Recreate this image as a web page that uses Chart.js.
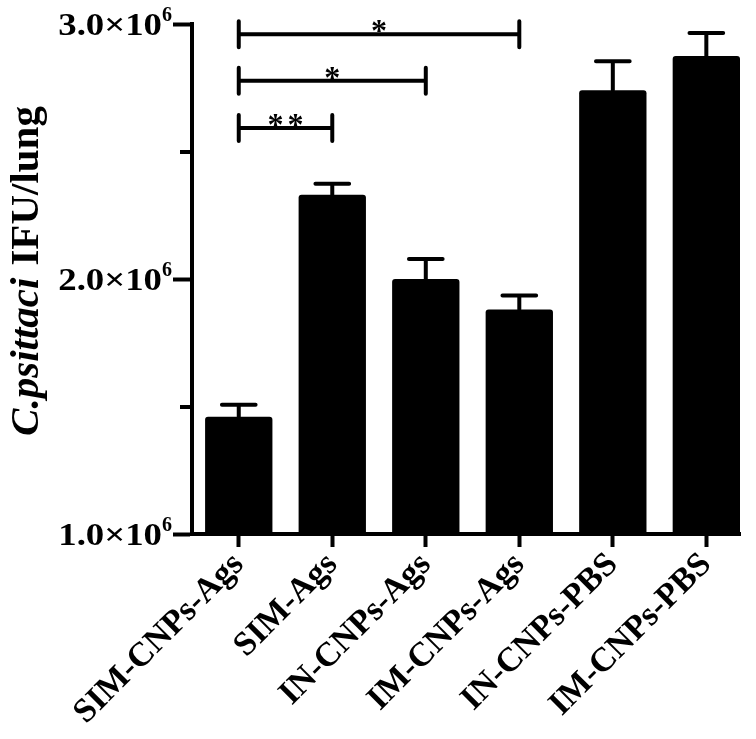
<!DOCTYPE html>
<html><head><meta charset="utf-8">
<script src="https://cdn.jsdelivr.net/npm/chart.js@4"></script>
<style>html,body{margin:0;padding:0;background:#fff}canvas{display:block}</style>
</head><body>
<canvas id="c" width="756" height="739"></canvas>
<script>
// ---- data ----
const categories = ['SIM-CNPs-Ags', 'SIM-Ags', 'IN-CNPs-Ags', 'IM-CNPs-Ags', 'IN-CNPs-PBS', 'IM-CNPs-PBS'];
const means = [1.46e6, 2.33e6, 2.0e6, 1.88e6, 2.74e6, 2.875e6];
const errors = [0.047e6, 0.044e6, 0.078e6, 0.055e6, 0.114e6, 0.09e6];
const yTickValues = [1.0e6, 1.5e6, 2.0e6, 2.5e6, 3.0e6];
const yTickMantissa = ['1.0×10', '', '2.0×10', '', '3.0×10'];
const yTickExponent = ['6', '', '6', '', '6'];
const sigFrom = [0, 0, 0];
const sigTo = [3, 2, 1];
const sigLevel = [2.96e6, 2.777e6, 2.592e6];
const sigText = ['*', '*', '**'];
const yTitleItalic = 'C.psittaci';
const yTitleRest = 'IFU/lung';

const FONT = '"Liberation Serif", "Times New Roman", serif';

const errorBarPlugin = {
  id: 'errbars',
  afterDatasetsDraw(chart) {
    const meta = chart.getDatasetMeta(0);
    const ys = chart.scales.y;
    const c = chart.ctx;
    c.save();
    c.strokeStyle = '#000';
    c.lineWidth = 4;
    c.lineCap = 'round';
    meta.data.forEach((bar, i) => {
      const top = ys.getPixelForValue(means[i]);
      const cap = ys.getPixelForValue(means[i] + errors[i]);
      const half = bar.width * 0.25;
      c.beginPath();
      c.moveTo(bar.x, top);
      c.lineTo(bar.x, cap);
      c.moveTo(bar.x - half, cap);
      c.lineTo(bar.x + half, cap);
      c.stroke();
    });
    c.restore();
  }
};

const sigPlugin = {
  id: 'sig',
  afterDraw(chart) {
    const xs = chart.scales.x, ys = chart.scales.y, c = chart.ctx;
    c.save();
    c.strokeStyle = '#000';
    c.fillStyle = '#000';
    c.lineWidth = 4;
    c.lineCap = 'round';
    for (let k = 0; k < sigFrom.length; k++) {
      const x1 = xs.getPixelForValue(sigFrom[k]);
      const x2 = xs.getPixelForValue(sigTo[k]);
      const y = ys.getPixelForValue(sigLevel[k]);
      c.beginPath();
      c.moveTo(x1, y); c.lineTo(x2, y);
      c.moveTo(x1, y - 13); c.lineTo(x1, y + 13);
      c.moveTo(x2, y - 13); c.lineTo(x2, y + 13);
      c.stroke();
      c.font = 'bold 32px ' + FONT;
      c.textAlign = 'center';
      c.textBaseline = 'alphabetic';
      const multi = sigText[k].length > 1;
      c.letterSpacing = multi ? '4px' : '0px';
      c.fillText(sigText[k], (x1 + x2) / 2 + (multi ? 2 : 0), y + 7);
    }
    c.restore();
  }
};

const yAxisTextPlugin = {
  id: 'yaxistext',
  afterDraw(chart) {
    const c = chart.ctx;
    const ys = chart.scales.y;
    const ca = chart.chartArea;
    c.save();
    c.fillStyle = '#000';
    c.strokeStyle = '#000';
    // minor ticks (shorter)
    c.lineWidth = 4;
    yTickValues.forEach((v, i) => {
      if (yTickMantissa[i]) return;
      const py = Math.round(ys.getPixelForValue(v));
      c.beginPath();
      c.moveTo(ca.left - 12, py);
      c.lineTo(ca.left, py);
      c.stroke();
    });
    // tick labels with superscript exponent
    const rightEdge = ca.left - 20;
    const sx = 1.15;
    yTickValues.forEach((v, i) => {
      if (!yTickMantissa[i]) return;
      const py = ys.getPixelForValue(v);
      c.textAlign = 'left';
      c.textBaseline = 'alphabetic';
      c.font = 'bold 20px ' + FONT;
      const we = c.measureText(yTickExponent[i]).width;
      c.fillText(yTickExponent[i], rightEdge - we, py - 3);
      c.font = 'bold 32px ' + FONT;
      const wm = c.measureText(yTickMantissa[i]).width * sx;
      c.save();
      c.translate(rightEdge - we - wm, py + 11);
      c.scale(sx, 1);
      c.fillText(yTickMantissa[i], 0, 0);
      c.restore();
    });
    // axis title (mixed italic / regular)
    const cy = (ca.top + ca.bottom) / 2 - 8;
    c.translate(38, cy);
    c.rotate(-Math.PI / 2);
    c.textAlign = 'left';
    c.textBaseline = 'alphabetic';
    c.font = 'italic bold 41px ' + FONT;
    const w1 = c.measureText(yTitleItalic).width;
    c.font = 'bold 41px ' + FONT;
    const gap = 12;
    const w2 = c.measureText(yTitleRest).width;
    const start = -(w1 + gap + w2) / 2;
    c.font = 'italic bold 41px ' + FONT;
    c.fillText(yTitleItalic, start, 0);
    c.font = 'bold 41px ' + FONT;
    c.fillText(yTitleRest, start + w1 + gap, 0);
    c.restore();
  }
};

new Chart(document.getElementById('c'), {
  type: 'bar',
  data: {
    datasets: [{
      data: means.map((v, i) => ({ x: i, y: v })),
      backgroundColor: '#000',
      borderWidth: 0,
      borderRadius: 3,
      borderSkipped: 'bottom',
      barPercentage: 0.72,
      categoryPercentage: 1
    }]
  },
  options: {
    responsive: false,
    animation: false,
    devicePixelRatio: 1,
    layout: { padding: { top: 24, right: 16, left: 0, bottom: 0 } },
    plugins: { legend: { display: false }, tooltip: { enabled: false } },
    scales: {
      x: {
        type: 'linear',
        offset: false,
        min: -0.5,
        max: 5.36,
        afterBuildTicks: s => { s.ticks = categories.map((c, i) => ({ value: i })); },
        afterFit: s => { s.height = 205; },
        ticks: {
          autoSkip: false, maxRotation: 45, minRotation: 45, color: '#000', padding: -2,
          font: { family: FONT, weight: 'bold', size: 34 },
          callback: (v, i) => categories[i]
        },
        grid: { offset: false, drawOnChartArea: false, drawTicks: true, tickLength: 13, tickWidth: 4, tickColor: '#000' },
        border: { display: true, color: '#000', width: 4 }
      },
      y: {
        type: 'linear',
        min: 1e6,
        max: 3e6,
        afterBuildTicks: s => { s.ticks = yTickValues.map(v => ({ value: v })); },
        afterFit: s => { s.width = 192; },
        ticks: { display: false },
        grid: {
          drawOnChartArea: false, drawTicks: true, tickLength: 19, tickWidth: 4,
          tickColor: ctx => (yTickMantissa[ctx.index] ? '#000' : 'rgba(0,0,0,0)')
        },
        border: { display: true, color: '#000', width: 4 }
      }
    }
  },
  plugins: [errorBarPlugin, sigPlugin, yAxisTextPlugin]
});
</script>
</body></html>
